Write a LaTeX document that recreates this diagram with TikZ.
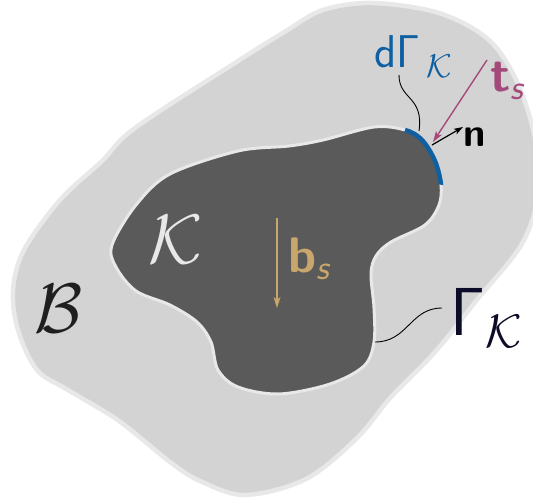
\documentclass[tikz,border=0pt]{standalone}
\usepackage{amsmath}
\DeclareFontShape{OMS}{cmsy}{m}{n}{<->cmsy10}{}
\DeclareFontShape{OML}{cmm}{m}{it}{<->cmmi10}{}
\usetikzlibrary{arrows.meta}
\definecolor{outerfill}{RGB}{211,211,211}
\definecolor{rimc}{RGB}{232,232,232}
\definecolor{innerfill}{RGB}{90,90,90}
\definecolor{bluec}{RGB}{14,96,162}
\definecolor{tcol}{RGB}{164,74,122}
\definecolor{bcol}{RGB}{200,166,108}
\definecolor{gcol}{RGB}{12,12,40}
\newcommand{\subK}[2]{\raisebox{#1}{\fontsize{#2}{#2}\selectfont$\mathcal{K}$}}
\tikzset{
  vecarrow/.style={line width=1.4pt,-{Stealth[length=11pt,width=7pt,inset=3pt]}},
  leader/.style={line width=0.9pt,black},
  lab/.style={inner sep=0pt,anchor=base west},
}
\begin{document}
\begin{tikzpicture}[x=1pt,y=-1pt]
\useasboundingbox (0,0) rectangle (533,500);
\clip (0,0) rectangle (533,500);
% outer body B
\draw[fill=outerfill,draw=rimc,line width=4.5pt]
  plot[smooth cycle,tension=0.55] coordinates {
  (374,3) (442,14) (493,44) (524,99) (540,175) (524,240) (476,301) (435,352)
  (391,397) (357,438) (306,479) (245,495) (200,481) (170,462) (119,421)
  (68,390) (37,370) (18,330) (13,290) (24,250) (60,200) (102,161) (135,128)
  (238,61) (286,31) (323,10)};
% inner part K
\def\innerpath{plot[smooth cycle,tension=0.55] coordinates {
  (112,245) (136,205) (170,174) (238,151) (289,146) (323,140) (374,127)
  (405,130) (422,140) (435,161) (441,185) (439,205) (425,225) (391,242)
  (376,256) (371,274) (374,308) (374,342) (364,366) (330,384) (279,394)
  (238,387) (218,370) (211,342) (197,322) (170,305) (136,291) (116,267)}}
\draw[fill=innerfill,draw=rimc,line width=3pt] \innerpath;
% highlighted boundary element dGamma_K
\begin{scope}
  \clip (390,175) -- (420,85) -- (505,85) -- (505,197) -- cycle;
  \draw[bluec,line width=4.5pt] \innerpath;
\end{scope}
% labels
\node[text=black!88,font=\fontsize{70}{70}\selectfont] (B) at (59,309) {$\mathcal{B}$};
\node[text=rimc,font=\fontsize{70}{70}\selectfont] (K) at (176,240) {$\mathcal{K}$};
\node[lab,text=gcol,font=\fontsize{68}{68}\selectfont] (GK) at (450,335) {\textsf{Γ}\hspace{1pt}\subK{-12pt}{47}};
\node[lab,text=bluec,font=\fontsize{46}{48}\selectfont] (dG) at (374,68) {\textsf{dΓ}\hspace{7pt}\subK{-10pt}{33}};
\node[lab,text=tcol,font=\fontsize{50}{50}\selectfont] (ts) at (490,92) {\textsf{\bfseries t}$_{\textsf{\slshape s}}$};
\node[lab,text=black,font=\fontsize{40}{40}\selectfont] (n) at (463,147) {\textsf{\bfseries n}};
\node[lab,text=bcol,font=\fontsize{50}{50}\selectfont] (bs) at (288,272) {\textsf{\bfseries b}$_{\textsf{\slshape s}}$};
% points
\coordinate (p) at (432,145);
\coordinate (ntip) at (463,127);
\coordinate (tstart) at (487,60);
\coordinate (ptip) at (433,142);
\coordinate (bstart) at (277,218);
\coordinate (bend) at (277,308);
\coordinate (dGa) at (399,75);
\coordinate (dGb) at (419,131);
\coordinate (GKa) at (442,308);
\coordinate (GKb) at (375,342);
% arrows
\draw[vecarrow,tcol] (tstart) -- (ptip);
\draw[vecarrow,black,line width=1.2pt,-{Stealth[length=9pt,width=6pt,inset=2pt]}] (p) -- (ntip);
\draw[vecarrow,bcol] (bstart) -- (bend);
% leaders
\draw[leader] (dGa) .. controls (399,100) and (424,96) .. (dGb);
\draw[leader] (GKb) .. controls (408,342) and (410,308) .. (GKa);
\end{tikzpicture}
\end{document}
